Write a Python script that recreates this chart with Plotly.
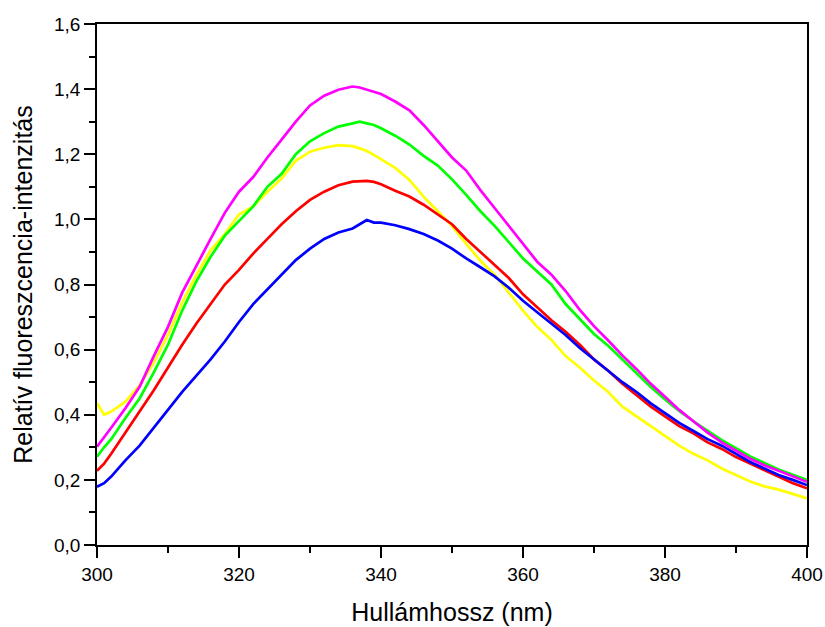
import plotly.graph_objects as go

wavelength = [300, 301, 302, 304, 306, 308, 310, 312, 314, 316, 318, 320, 322, 324, 326, 328,
              330, 332, 334, 336, 337, 338, 339, 340, 342, 344, 346, 348, 350, 352, 354, 356,
              358, 360, 362, 364, 366, 368, 370, 372, 374, 376, 378, 380, 382, 384, 386, 388,
              390, 392, 394, 396, 398, 400]

magenta = [0.302, 0.33, 0.36, 0.42, 0.486, 0.58, 0.67, 0.775, 0.86, 0.94, 1.02, 1.085, 1.13, 1.19, 1.245, 1.30,
           1.35, 1.38, 1.398, 1.408, 1.405, 1.398, 1.392, 1.385, 1.362, 1.335, 1.29, 1.24, 1.19, 1.15, 1.09, 1.035,
           0.98, 0.925, 0.87, 0.83, 0.78, 0.722, 0.672, 0.628, 0.582, 0.54, 0.495, 0.455, 0.415, 0.38, 0.345, 0.315,
           0.29, 0.265, 0.245, 0.228, 0.21, 0.194]

green = [0.271, 0.30, 0.325, 0.39, 0.45, 0.53, 0.615, 0.72, 0.81, 0.885, 0.95, 0.995, 1.04, 1.10, 1.14, 1.20,
         1.24, 1.265, 1.285, 1.295, 1.30, 1.295, 1.29, 1.28, 1.257, 1.23, 1.195, 1.165, 1.123, 1.075, 1.025, 0.98,
         0.93, 0.88, 0.84, 0.80, 0.74, 0.695, 0.648, 0.612, 0.57, 0.53, 0.485, 0.447, 0.412, 0.38, 0.35, 0.322,
         0.297, 0.272, 0.252, 0.232, 0.216, 0.200]

yellow = [0.436, 0.40, 0.41, 0.44, 0.49, 0.56, 0.645, 0.745, 0.83, 0.905, 0.955, 1.015, 1.04, 1.085, 1.125, 1.18,
          1.208, 1.22, 1.228, 1.225, 1.218, 1.21, 1.198, 1.185, 1.158, 1.121, 1.07, 1.025, 0.98, 0.925, 0.873, 0.83,
          0.775, 0.72, 0.67, 0.63, 0.58, 0.545, 0.505, 0.47, 0.425, 0.395, 0.365, 0.335, 0.305, 0.28, 0.26, 0.235,
          0.215, 0.195, 0.18, 0.17, 0.157, 0.143]

red = [0.228, 0.25, 0.28, 0.345, 0.41, 0.475, 0.545, 0.615, 0.68, 0.74, 0.80, 0.845, 0.895, 0.94, 0.985, 1.025,
       1.06, 1.085, 1.105, 1.116, 1.118, 1.118, 1.115, 1.108, 1.088, 1.07, 1.045, 1.015, 0.985, 0.94, 0.90, 0.86,
       0.82, 0.77, 0.73, 0.69, 0.655, 0.615, 0.57, 0.535, 0.495, 0.46, 0.425, 0.395, 0.365, 0.343, 0.315, 0.295,
       0.27, 0.25, 0.23, 0.21, 0.19, 0.174]

blue = [0.179, 0.19, 0.21, 0.26, 0.305, 0.36, 0.415, 0.47, 0.52, 0.57, 0.625, 0.685, 0.74, 0.785, 0.83, 0.875,
        0.91, 0.94, 0.96, 0.972, 0.985, 0.998, 0.99, 0.99, 0.982, 0.97, 0.955, 0.935, 0.91, 0.88, 0.853, 0.825,
        0.79, 0.75, 0.715, 0.68, 0.645, 0.605, 0.57, 0.535, 0.50, 0.47, 0.435, 0.405, 0.375, 0.35, 0.325, 0.305,
        0.28, 0.255, 0.235, 0.215, 0.20, 0.184]

series = [
    ("yellow", yellow, "#FFFF00"),
    ("red", red, "#FF0000"),
    ("blue", blue, "#0000FF"),
    ("green", green, "#00FF00"),
    ("magenta", magenta, "#FF00FF"),
]

fig = go.Figure()
for name, vals, col in series:
    fig.add_trace(go.Scatter(x=wavelength, y=vals, mode="lines", name=name,
                             line=dict(color=col, width=2.7), showlegend=False))

font = "Liberation Sans, Arial, sans-serif"
axis_common = dict(
    showline=True, linecolor="black", linewidth=1.5, mirror=True,
    ticks="outside", ticklen=11, tickwidth=1.5, tickcolor="black",
    showgrid=False, zeroline=False,
    tickfont=dict(family=font, size=19, color="black"),
)

fig.update_xaxes(range=[300, 400], dtick=20, tick0=300,
                 minor=dict(dtick=10, ticks="outside", ticklen=6, tickwidth=1.5, tickcolor="black", showgrid=False),
                 title=dict(text="Hullámhossz (nm)", font=dict(family=font, size=25, color="black"), standoff=20),
                 **axis_common)
fig.update_yaxes(range=[0, 1.6], dtick=0.2, tick0=0, tickformat=".1f",
                 minor=dict(dtick=0.1, ticks="outside", ticklen=6, tickwidth=1.5, tickcolor="black", showgrid=False),
                 title=dict(text="Relatív fluoreszcencia-intenzitás", font=dict(family=font, size=25, color="black"), standoff=14),
                 **axis_common)

fig.update_layout(
    width=825, height=627,
    margin=dict(l=97, r=18, t=24, b=82, autoexpand=False),
    plot_bgcolor="white", paper_bgcolor="white",
    separators=", ",
    font=dict(family=font, color="black"),
)

fig.write_html("out.html")
